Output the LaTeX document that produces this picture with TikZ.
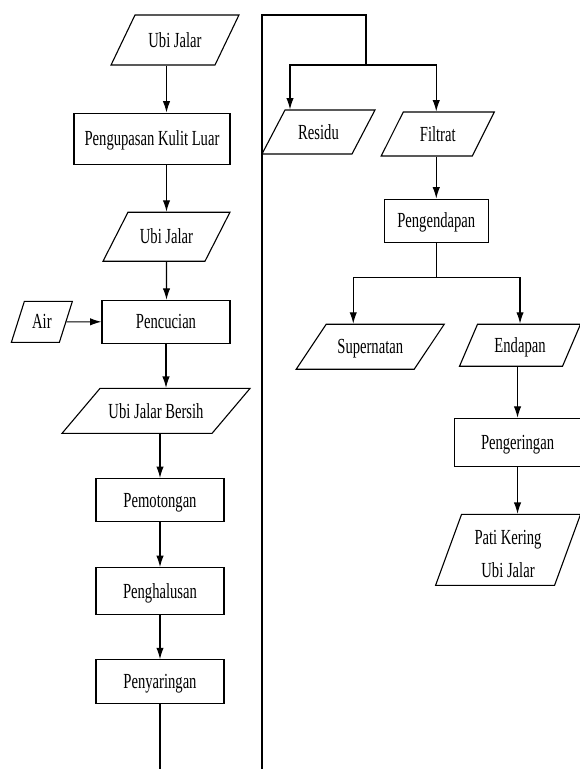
\documentclass[tikz,border=0pt]{standalone}
\usepackage{fontspec}
\setmainfont{Liberation Serif}[FakeStretch=0.68]
\usetikzlibrary{positioning, arrows.meta, shapes.geometric}

\begin{document}
\begin{tikzpicture}[
    x=1pt, y=1pt,
    % Styles for the process boxes, the data boxes and the lines
    process/.style={rectangle, draw, line width=1.1pt, minimum width=128pt, minimum height=44pt,
        text height=15pt, text depth=0.8pt, inner sep=2pt, font=\fontsize{21.5}{33}\selectfont},
    data/.style={
        trapezium,
        draw, line width=1.1pt,
        text height=15pt, text depth=0.8pt, % baseline kept the same in every box
        inner xsep=0pt, align=flush center,
        font=\fontsize{21.5}{33}\selectfont
    },
    dsize/.style n args={4}{ % body width, height, left and right angle
        text width=#1, inner ysep=(#2-15.8pt)/2,
        trapezium left angle=#3, trapezium right angle=#4
    },
    line/.style={
        draw, line width=1.1pt,
        -{Latex[length=4mm,width=2.6mm]}
    },
    plain/.style={draw, line width=1.1pt}
]

\useasboundingbox (0,0) rectangle (579,-769);

% Left column
\node [data, dsize={80pt}{50pt}{64.4}{115.6}] (ubi1) at (175,-40) {Ubi Jalar};
\node [process, minimum width=156pt, minimum height=51pt, below=47pt of ubi1, xshift=-23pt] (kupas) {Pengupasan Kulit Luar};
\node [data, dsize={77pt}{49pt}{63}{117}, below=47pt of kupas, xshift=14.5pt] (ubi2) {Ubi Jalar};
\node [process, minimum height=43pt, below=38pt of ubi2, xshift=-0.5pt] (cuci) {Pencucian};
\node [data, dsize={35pt}{41pt}{72.4}{107.6}, left=35pt of cuci] (air) {Air};
\node [data, dsize={112pt}{45pt}{49.8}{130.2}, below=44pt of cuci, xshift=-10pt] (bersih) {Ubi Jalar Bersih};
\node [process, minimum height=43pt, below=44pt of bersih, xshift=4pt] (potong) {Pemotongan};
\node [process, minimum height=47pt, below=45pt of potong] (halus) {Penghalusan};
\node [process, minimum height=44pt, below=44pt of halus] (saring) {Penyaringan};

% Right column
\node [data, dsize={67pt}{44pt}{62.4}{117.6}] (residu) at (318.5,-132) {Residu};
\node [data, dsize={69pt}{44pt}{63.4}{116.6}, right=27.5pt of residu, yshift=-2pt] (filtrat) {Filtrat};
\node [process, minimum width=104pt, minimum height=43pt, below=42pt of filtrat, xshift=-1.5pt] (endap) {Pengendapan};
\node [data, dsize={88pt}{45pt}{56.3}{123.7}, below=81pt of endap, xshift=-66pt] (supernatan) {Supernatan};
\node [data, dsize={85pt}{42pt}{66.8}{113.2}, right=38pt of supernatan, yshift=1.5pt] (endapan) {Endapan};
\node [process, minimum width=126pt, minimum height=48pt, below=51pt of endapan, xshift=-2.5pt] (kering) {Pengeringan};
\node [data, dsize={93pt}{71pt}{69.9}{110.1}, inner ysep=0pt, text height=29.7pt, text depth=41.3pt,
       below=47pt of kering, xshift=-9.5pt] (pati) {Pati Kering\\Ubi Jalar};

% Arrows of the left column
\path [line] (ubi1.south -| ubi2) -- (kupas.north -| ubi2);
\path [line] (kupas.south -| ubi2) -- (ubi2.north -| ubi2);
\path [line] (ubi2.south) -- (cuci.north -| ubi2);
\path [line] (air) -- (cuci);
\path [line] (cuci.south) -- (bersih.north -| cuci);
\path [line] (bersih.south -| potong) -- (potong.north);
\path [line] (potong) -- (halus);
\path [line] (halus) -- (saring);

% Line that leaves the picture at the bottom and comes back up on the right
\coordinate (cutL) at (saring.south |- 0,-769);
\coordinate (cutR) at (262,-769);
\coordinate (fork1) at (366,-65);
\path [plain] (saring) -- (cutL);
\path [plain] (cutR) |- (fork1 |- 0,-15) -- (fork1);
\path [line] (fork1) -| ([xshift=-28.5pt]residu.north);
\path [line] (fork1) -| (filtrat.north -| endap);

% Arrows of the right column
\path [line] (filtrat.south -| endap) -- (endap);
\path [plain] (endap.south) -- ++(0,-35) coordinate (fork2);
\path [line] (fork2) -| ([xshift=-17pt]supernatan.north);
\path [line] (fork2) -| (endapan.north);
\path [line] (endapan.south -| kering) -- (kering);
\path [line] (kering) -- (kering |- pati.north);

\end{tikzpicture}
\end{document}
